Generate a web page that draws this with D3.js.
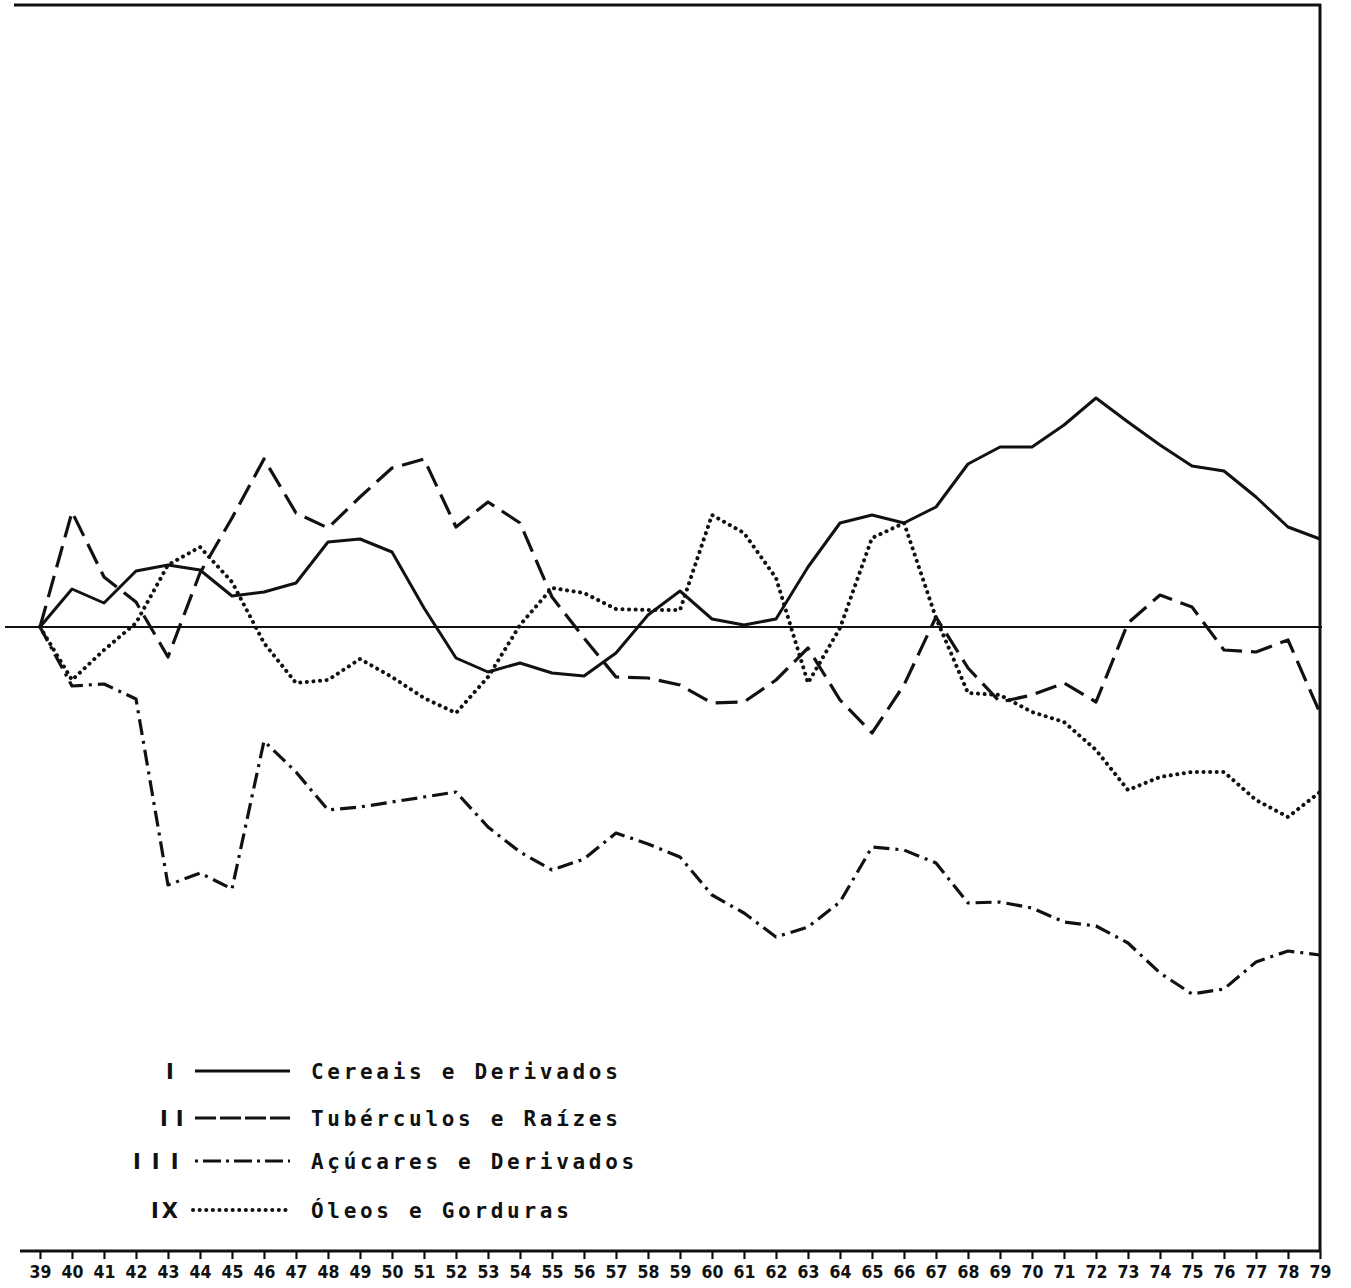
<!DOCTYPE html>
<html>
<head>
<meta charset="utf-8">
<script src="https://cdn.jsdelivr.net/npm/d3@7"></script>
<style>
  html, body { margin: 0; padding: 0; background: #fff; }
  svg { display: block; }
</style>
</head>
<body>
<svg id="chart" width="1351" height="1288"></svg>
<script>
// ---- data ----
const years = d3.range(39, 80); // 39 .. 79
const tickLabels = years.map(String);

const cereais = [0, 3.8, 2.4, 5.6, 6.2, 5.7, 3.1, 3.5, 4.4, 8.5, 8.8, 7.5, 1.9, -3.1, -4.5, -3.6, -4.6, -4.9, -2.6, 1.2, 3.6, 0.8, 0.2, 0.8, 6.0, 10.4, 11.2, 10.4, 12.0, 16.3, 18.0, 18.0, 20.2, 22.9, 20.5, 18.2, 16.1, 15.6, 13.0, 10.0, 8.8];
const tuberculos = [0, 11.5, 5.0, 2.5, -3.0, 5.4, 10.9, 16.8, 11.4, 9.9, 13.0, 15.9, 16.8, 10.0, 12.5, 10.4, 3.0, -1.1, -5.0, -5.1, -5.8, -7.6, -7.5, -5.3, -2.1, -7.3, -10.6, -5.8, 1.0, -4.1, -7.5, -6.8, -5.6, -7.5, 0.4, 3.2, 2.0, -2.3, -2.5, -1.3, -8.6];
const acucares = [0, -5.9, -5.7, -7.2, -25.8, -24.6, -26.2, -11.4, -14.5, -18.3, -18.0, -17.5, -17.0, -16.5, -20.0, -22.5, -24.3, -23.2, -20.6, -21.7, -23.0, -26.8, -28.6, -31.0, -30.0, -27.5, -22.0, -22.3, -23.6, -27.6, -27.5, -28.1, -29.5, -29.9, -31.6, -34.6, -36.7, -36.2, -33.5, -32.4, -32.8];
const oleos = [0, -5.3, -2.3, 0.4, 6.2, 8.0, 4.5, -1.6, -5.6, -5.3, -3.2, -5.0, -7.1, -8.6, -5.0, 0.2, 3.9, 3.4, 1.8, 1.7, 1.7, 11.2, 9.4, 4.9, -5.6, -0.1, 8.9, 10.4, 0.9, -6.6, -6.8, -8.5, -9.5, -12.3, -16.3, -15.0, -14.5, -14.5, -17.3, -19.0, -16.5];

const seriesNames = ["Cereais e Derivados", "Tubérculos e Raízes", "Açúcares e Derivados", "Óleos e Gorduras"];
const seriesNumerals = ["I", "II", "III", "IX"];
const seriesValues = [cereais, tuberculos, acucares, oleos];

// ---- styles ----
const styles = [
  { width: 3, dash: null, cap: "butt" },
  { width: 3.2, dash: "22 9", cap: "butt" },
  { width: 3.2, dash: "16 6 3 6", cap: "butt" },
  { width: 4, dash: "0.1 6.5", cap: "round" }
];

const svg = d3.select("#chart");
const x = d3.scaleLinear().domain([39, 79]).range([40, 1320]);
const yBottom = -62.4, yTop = 62.2;
const y = d3.scaleLinear().domain([yBottom, yTop]).range([1251, 5]);

// frame: top and right borders
svg.append("line").attr("x1", 14).attr("x2", 1321).attr("y1", y(yTop)).attr("y2", y(yTop))
  .attr("stroke", "#111").attr("stroke-width", 3);
svg.append("line").attr("x1", 1320).attr("x2", 1320).attr("y1", y(yTop) - 1).attr("y2", y(yBottom))
  .attr("stroke", "#111").attr("stroke-width", 3);

// zero line
svg.append("line").attr("x1", 5).attr("x2", 1322).attr("y1", y(0)).attr("y2", y(0))
  .attr("stroke", "#111").attr("stroke-width", 2);

// bottom axis
const axis = d3.axisBottom(x).tickValues(years).tickFormat((d, i) => tickLabels[i])
  .tickSize(8).tickSizeOuter(0).tickPadding(7);
const gAxis = svg.append("g").attr("transform", `translate(0, ${y(yBottom)})`).call(axis);
gAxis.select(".domain").attr("d", `M20,0H1321`).attr("stroke", "#111").attr("stroke-width", 3);
gAxis.selectAll(".tick line").attr("stroke", "#111").attr("stroke-width", 2.2);
gAxis.selectAll(".tick text")
  .attr("fill", "#111")
  .style("font-family", "'DejaVu Sans Condensed', 'Liberation Sans Narrow', 'DejaVu Sans', sans-serif")
  .style("font-size", "17.5px")
  .style("font-weight", "bold");

// series lines
const line = d3.line().x((d, i) => x(years[i])).y(d => y(d));
seriesValues.forEach((vals, k) => {
  const st = styles[k];
  const p = svg.append("path").datum(vals)
    .attr("d", line)
    .attr("fill", "none")
    .attr("stroke", "#111")
    .attr("stroke-width", st.width)
    .attr("stroke-linejoin", "round")
    .attr("stroke-linecap", st.cap);
  if (st.dash) p.attr("stroke-dasharray", st.dash);
});

// legend
const legendRows = [1071, 1118, 1161, 1210];
const numeralX = [166, 160, 133, 151];
const numeralSpacing = [0, 8, 11, 3];
const legendFont = "'DejaVu Sans Mono', 'Liberation Mono', monospace";
seriesNames.forEach((name, k) => {
  const yy = legendRows[k];
  const st = styles[k];
  svg.append("text")
    .attr("x", numeralX[k]).attr("y", yy).attr("dy", "0.36em")
    .style("font-family", "'DejaVu Sans', sans-serif")
    .style("font-size", "21px")
    .style("font-weight", "bold")
    .style("letter-spacing", numeralSpacing[k] + "px")
    .attr("fill", "#111")
    .text(seriesNumerals[k]);
  const l = svg.append("line")
    .attr("x1", k === 3 ? 193 : 195).attr("x2", 290)
    .attr("y1", yy).attr("y2", yy)
    .attr("stroke", "#111")
    .attr("stroke-width", st.width)
    .attr("stroke-linecap", st.cap);
  if (k === 1) l.attr("stroke-dasharray", "21 4");
  else if (k === 2) l.attr("stroke-dasharray", "3 5 18 5");
  else if (k === 3) l.attr("stroke-dasharray", "0.1 6.5");
  svg.append("text")
    .attr("x", 311).attr("y", yy).attr("dy", "0.36em")
    .style("font-family", legendFont)
    .style("font-size", "21px")
    .style("font-weight", "bold")
    .style("letter-spacing", "3.7px")
    .attr("fill", "#111")
    .text(name);
});
</script>
</body>
</html>
